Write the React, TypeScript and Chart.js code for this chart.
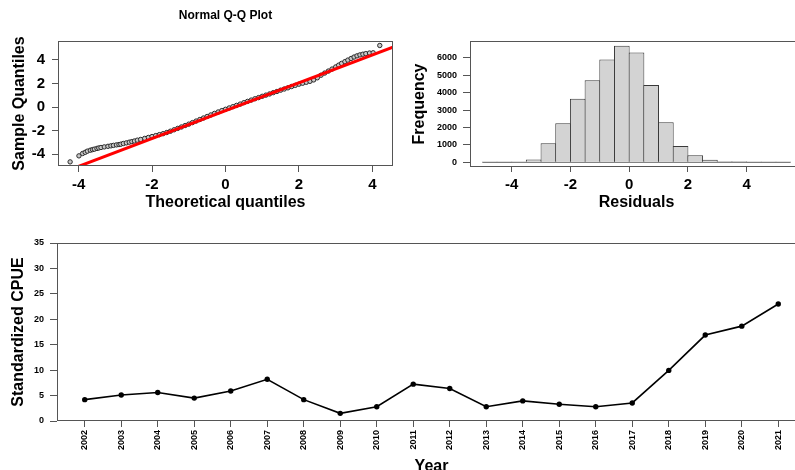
import React, { useEffect, useRef } from "react";
import { Chart, registerables } from "chart.js";

Chart.register(...registerables);

const FONT = "'Liberation Sans', Arial, Helvetica, sans-serif";

// ---- Normal Q-Q plot ----
const qqTheoretical = [
  -4.23, -3.99, -3.89, -3.82, -3.76, -3.68, -3.62, -3.57, -3.5, -3.45, -3.39, -3.3, -3.2, -3.12, -3.05,
  -2.97, -2.9, -2.85, -2.78, -2.7, -2.62, -2.55, -2.48, -2.4, -2.31, -2.2, -2.1, -2.0, -1.9, -1.8, -1.7,
  -1.6, -1.5, -1.4, -1.3, -1.2, -1.1, -1.0, -0.9, -0.8, -0.7, -0.6, -0.5, -0.4, -0.3, -0.2, -0.1, 0.0,
  0.1, 0.2, 0.3, 0.4, 0.5, 0.6, 0.7, 0.8, 0.9, 1.0, 1.1, 1.2, 1.3, 1.4, 1.5, 1.6, 1.7, 1.8, 1.9, 2.0,
  2.1, 2.2, 2.3, 2.4, 2.5, 2.6, 2.7, 2.8, 2.9, 3.0, 3.08, 3.16, 3.25, 3.33, 3.42, 3.5, 3.58, 3.66, 3.74,
  3.82, 3.92, 4.02, 4.2,
];
const qqSample = [
  -4.65, -4.14, -3.94, -3.84, -3.74, -3.66, -3.61, -3.57, -3.51, -3.47, -3.43, -3.38, -3.33, -3.29, -3.25,
  -3.21, -3.18, -3.15, -3.09, -3.04, -2.98, -2.93, -2.88, -2.81, -2.75, -2.66, -2.58, -2.5, -2.42, -2.34, -2.26,
  -2.16, -2.05, -1.93, -1.81, -1.69, -1.57, -1.45, -1.32, -1.19, -1.06, -0.93, -0.8, -0.67, -0.54, -0.42, -0.3, -0.19,
  -0.08, 0.03, 0.14, 0.25, 0.37, 0.48, 0.59, 0.7, 0.8, 0.91, 1.01, 1.11, 1.22, 1.32, 1.43, 1.53, 1.63, 1.74, 1.84, 1.94,
  2.02, 2.1, 2.18, 2.3, 2.48, 2.7, 2.88, 3.05, 3.22, 3.4, 3.55, 3.7, 3.85, 3.98, 4.12, 4.24, 4.34, 4.42, 4.48,
  4.53, 4.58, 4.6, 5.22,
];
const qqLineX = [-4.6, 4.6];
const qqLineY = [-5.74, 5.12];
const qqXTicks = [-4, -2, 0, 2, 4];
const qqYTicks = [-4, -2, 0, 2, 4];

// ---- Histogram of residuals ----
const histBinCenters = [
  -4.75, -4.25, -3.75, -3.25, -2.75, -2.25, -1.75, -1.25, -0.75, -0.25, 0.25, 0.75, 1.25, 1.75, 2.25, 2.75,
  3.25, 3.75, 4.25, 4.75, 5.25,
];
const histCounts = [
  1, 2, 12, 160, 1090, 2250, 3650, 4720, 5910, 6690, 6310, 4435, 2295, 935, 400, 150, 55, 55, 8, 3, 1,
];
const histBaseX = [-5, 5.5];
const histXTicks = [-4, -2, 0, 2, 4];
const histYTicks = [0, 1000, 2000, 3000, 4000, 5000, 6000];

// ---- Standardized CPUE ----
const years = [
  2002, 2003, 2004, 2005, 2006, 2007, 2008, 2009, 2010, 2011, 2012, 2013, 2014, 2015, 2016, 2017, 2018, 2019,
  2020, 2021,
];
const cpue = [
  4.2, 5.1, 5.6, 4.5, 5.9, 8.2, 4.2, 1.5, 2.8, 7.25, 6.4, 2.8, 3.95, 3.3, 2.8, 3.55, 9.95, 16.9, 18.65, 23.0,
];
const cpueYTicks = [0, 5, 10, 15, 20, 25, 30, 35];

const BOX = "#555";

const boxPlugin = {
  id: "boxFrame",
  afterDatasetsDraw(chart: any) {
    const { ctx, chartArea } = chart;
    const l = Math.round(chartArea.left) + 0.5;
    const t = Math.round(chartArea.top) + 0.5;
    const r = Math.round(chartArea.right) - 0.5;
    const b = Math.round(chartArea.bottom) - 0.5;
    ctx.save();
    ctx.strokeStyle = BOX;
    ctx.lineWidth = 1;
    ctx.strokeRect(l, t, r - l, b - t);
    ctx.restore();
  },
};

function fixedTicks(values: number[]) {
  return (scale: any) => {
    scale.ticks = values.map((v) => ({ value: v }));
  };
}

function xAxis(o: any) {
  return {
    type: "linear",
    position: "bottom",
    min: o.min,
    max: o.max,
    offset: false,
    afterBuildTicks: fixedTicks(o.ticks),
    afterFit: (s: any) => {
      s.height = o.height;
    },
    border: { display: false },
    grid: {
      display: true,
      drawOnChartArea: false,
      drawTicks: true,
      tickLength: o.tickLength,
      color: BOX,
      offset: false,
    },
    ticks: {
      autoSkip: false,
      color: "#000",
      padding: o.padding,
      minRotation: o.rotation || 0,
      maxRotation: o.rotation || 0,
      font: { family: FONT, size: o.tickSize, weight: "bold" },
      callback: (v: any) => String(v),
    },
    title: {
      display: true,
      text: o.title,
      color: "#000",
      font: { family: FONT, size: 16, weight: "bold" },
      padding: { top: 0, bottom: o.titlePad },
    },
  };
}

function yAxis(o: any) {
  return {
    type: "linear",
    position: "left",
    min: o.min,
    max: o.max,
    afterBuildTicks: fixedTicks(o.ticks),
    afterFit: (s: any) => {
      s.width = o.width;
    },
    border: { display: false },
    grid: {
      display: true,
      drawOnChartArea: false,
      drawTicks: true,
      tickLength: o.tickLength,
      color: BOX,
    },
    ticks: {
      autoSkip: false,
      color: "#000",
      padding: o.padding,
      font: { family: FONT, size: o.tickSize, weight: "bold" },
      callback: (v: any) => String(v),
    },
    title: {
      display: true,
      text: o.title,
      color: "#000",
      font: { family: FONT, size: 16, weight: "bold" },
      padding: { top: o.titlePad, bottom: 0 },
    },
  };
}

export default function App() {
  const qqRef = useRef<HTMLCanvasElement>(null);
  const histRef = useRef<HTMLCanvasElement>(null);
  const lineRef = useRef<HTMLCanvasElement>(null);

  useEffect(() => {
    const charts: Chart[] = [];

    charts.push(
      new Chart(qqRef.current as HTMLCanvasElement, {
        type: "scatter",
        data: {
          datasets: [
            {
              data: qqLineX.map((x, i) => ({ x, y: qqLineY[i] })),
              showLine: true,
              borderColor: "#ff0000",
              borderWidth: 3,
              pointRadius: 0,
              clip: 0,
              order: 0,
            } as any,
            {
              data: qqTheoretical.map((x, i) => ({ x, y: qqSample[i] })),
              pointRadius: 2.2,
              pointBorderWidth: 1,
              borderColor: "#2a2a2a",
              backgroundColor: "#c8c8c8",
              order: 1,
            } as any,
          ],
        },
        options: {
          responsive: false,
          animation: false,
          layout: { padding: { top: 0, right: 7, left: 0, bottom: 0 } },
          plugins: {
            legend: { display: false },
            tooltip: { enabled: false },
            title: {
              display: true,
              text: "Normal Q-Q Plot",
              fullSize: false,
              color: "#000",
              font: { family: FONT, size: 12, weight: "bold" },
              padding: { top: 8.8, bottom: 17.8 },
            },
          },
          scales: {
            x: xAxis({
              min: -4.56,
              max: 4.56,
              ticks: qqXTicks,
              height: 49,
              tickLength: 6,
              padding: 4,
              tickSize: 15,
              title: "Theoretical quantiles",
              titlePad: 3,
            }),
            y: yAxis({
              min: -5.0,
              max: 5.6,
              ticks: qqYTicks,
              width: 58,
              tickLength: 6,
              padding: 7,
              tickSize: 15,
              title: "Sample Quantiles",
              titlePad: 10,
            }),
          } as any,
        },
        plugins: [boxPlugin],
      } as any)
    );

    charts.push(
      new Chart(histRef.current as HTMLCanvasElement, {
        type: "bar",
        data: {
          datasets: [
            {
              type: "bar",
              data: histBinCenters.map((x, i) => ({ x, y: histCounts[i] })),
              backgroundColor: "#d3d3d3",
              borderColor: "#3a3a3a",
              borderWidth: 1,
              barPercentage: 1.068,
              categoryPercentage: 1,
              order: 1,
            } as any,
            {
              type: "line",
              data: histBaseX.map((x) => ({ x, y: 0 })),
              borderColor: "#666",
              borderWidth: 1,
              pointRadius: 0,
              order: 2,
            } as any,
          ],
        },
        options: {
          responsive: false,
          animation: false,
          layout: { padding: { top: 41, right: 7, left: 0, bottom: 0 } },
          plugins: { legend: { display: false }, tooltip: { enabled: false } },
          scales: {
            x: xAxis({
              min: -5.42,
              max: 5.92,
              ticks: histXTicks,
              height: 48,
              tickLength: 5,
              padding: 4,
              tickSize: 15,
              title: "Residuals",
              titlePad: 3,
            }),
            y: yAxis({
              min: -270,
              max: 6968,
              ticks: histYTicks,
              width: 70,
              tickLength: 7,
              padding: 6,
              tickSize: 9,
              title: "Frequency",
              titlePad: 9.5,
            }),
          } as any,
        },
        plugins: [boxPlugin],
      } as any)
    );

    charts.push(
      new Chart(lineRef.current as HTMLCanvasElement, {
        type: "line",
        data: {
          datasets: [
            {
              data: years.map((x, i) => ({ x, y: cpue[i] })),
              borderColor: "#000",
              borderWidth: 1.6,
              pointRadius: 2.7,
              pointBackgroundColor: "#000",
              pointBorderColor: "#000",
              pointBorderWidth: 0,
              tension: 0,
            } as any,
          ],
        },
        options: {
          responsive: false,
          animation: false,
          layout: { padding: { top: 13, right: 9, left: 0, bottom: 0 } },
          plugins: { legend: { display: false }, tooltip: { enabled: false } },
          scales: {
            x: xAxis({
              min: 2001.24,
              max: 2021.76,
              ticks: years,
              height: 59,
              tickLength: 6,
              padding: 3,
              tickSize: 9,
              rotation: 90,
              title: "Year",
              titlePad: 3.5,
            }),
            y: yAxis({
              min: 0,
              max: 35,
              ticks: cpueYTicks,
              width: 57,
              tickLength: 7,
              padding: 6,
              tickSize: 9,
              title: "Standardized CPUE",
              titlePad: 8.5,
            }),
          } as any,
        },
        plugins: [boxPlugin],
      } as any)
    );

    return () => {
      charts.forEach((c) => c.destroy());
    };
  }, []);

  return (
    <div
      style={{
        position: "absolute",
        left: 0,
        top: 0,
        width: 795,
        height: 470,
        overflow: "hidden",
        background: "#fff",
      }}
    >
      <canvas
        ref={qqRef}
        width={400}
        height={215}
        style={{ position: "absolute", left: 0, top: 0, width: 400, height: 215 }}
      />
      <canvas
        ref={histRef}
        width={410}
        height={215}
        style={{ position: "absolute", left: 400, top: 0, width: 410, height: 215 }}
      />
      <canvas
        ref={lineRef}
        width={815}
        height={250}
        style={{ position: "absolute", left: 0, top: 230, width: 815, height: 250 }}
      />
    </div>
  );
}
